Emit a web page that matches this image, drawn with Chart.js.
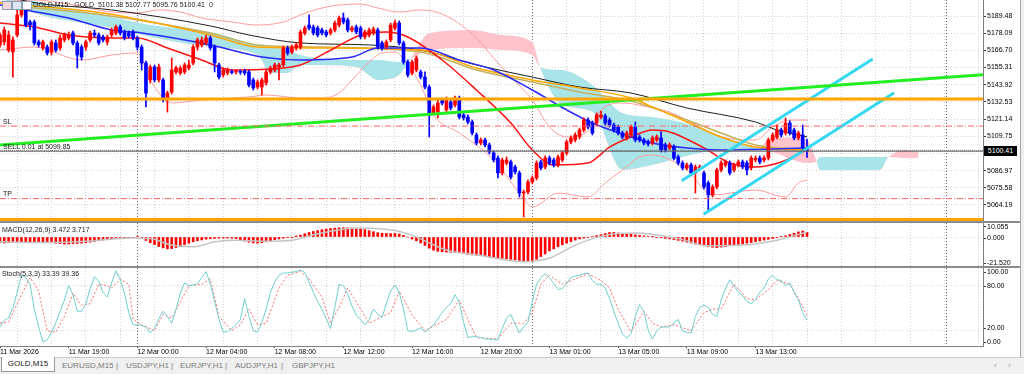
<!DOCTYPE html>
<html>
<head>
<meta charset="utf-8">
<title>GOLD,M15</title>
<script src="https://cdn.jsdelivr.net/npm/chart.js@4.4.1/dist/chart.umd.min.js"></script>
<style>
  body { margin: 0; width: 1024px; height: 374px; overflow: hidden; background: #fff; position: relative; font-family: "Liberation Sans", Arial, sans-serif; }
  canvas { position: absolute; left: 0; }
  .lbl { position: absolute; font-size: 7px; line-height: 8px; color: #202020; white-space: nowrap; z-index: 3; }
  .sep { position: absolute; left: 0; width: 1020px; height: 2px; background: #8c8c8c; z-index: 2; }
  #rightEdge { position: absolute; left: 1020px; top: 0; width: 4px; height: 357px; background: #f0f0f0; border-left: 1px solid #a8a8a8; box-sizing: border-box; }
  #priceBox { position: absolute; left: 984px; top: 146px; width: 33px; height: 10px; background: #000; color: #fff; font-size: 7px; line-height: 10px; text-align: center; z-index: 3; }
  #tabs { position: absolute; left: 0; top: 357px; width: 1024px; height: 17px; background: #f0f0f0; border-top: 1px solid #c8c8c8; box-sizing: border-box; font-size: 8px; font-weight: normal; color: #7a7a7a; }
  #tabs span { position: absolute; top: 3px; white-space: nowrap; font-weight: normal; }
  #tabs .active { top: -1px; left: 1px; width: 54px; height: 15px; background: #fff; border: 1px solid #9a9a9a; border-top: none; box-sizing: border-box; color: #1a1a1a; text-align: center; line-height: 14px; }
  .icon { position: absolute; top: 1px; width: 8px; height: 7px; border: 1px solid #8aa0b8; background: #f4d8de; z-index: 3; }
</style>
</head>
<body>
<canvas id="main" width="1020" height="221" style="top:0"></canvas>
<canvas id="macd" width="1020" height="43" style="top:223px"></canvas>
<canvas id="stoch" width="1020" height="89" style="top:268px"></canvas>

<div class="sep" style="top:221px"></div>
<div class="sep" style="top:266px"></div>
<div id="rightEdge"></div>

<div class="icon" style="left:2px"></div>
<div class="icon" style="left:12px; background:#dde8f4"></div>
<div class="icon" style="left:22px; background:#fff"></div>
<div class="lbl" style="left:33px; top:1px">GOLD,M15:&nbsp; GOLD&nbsp; 5101.38 5107.77 5095.76 5100.41&nbsp; 0</div>
<div class="lbl" style="left:3px; top:118px">SL</div>
<div class="lbl" style="left:3px; top:143px">SELL 0.01 at 5099.85</div>
<div class="lbl" style="left:3px; top:190px">TP</div>
<div class="lbl" style="left:2px; top:226px">MACD(12,26,9) 3.472 3.717</div>
<div class="lbl" style="left:2px; top:270px">Stoch(5,3,3) 33.39 39.36</div>
<div id="priceBox">5100.41</div>

<div id="tabs">
  <span class="active">GOLD,M15</span>
  <span style="left:62px">EURUSD,M15</span>
  <span style="left:116px">|</span>
  <span style="left:126px">USDJPY,H1</span>
  <span style="left:171px">|</span>
  <span style="left:180px">EURJPY,H1</span>
  <span style="left:225px">|</span>
  <span style="left:235px">AUDJPY,H1</span>
  <span style="left:281px">|</span>
  <span style="left:292px">GBPJPY,H1</span>
  <span style="left:994px; color:#a0a0a0">&lsaquo;</span>
  <span style="left:1008px; color:#a0a0a0">&rsaquo;</span>
</div>

<script>
// GOLD M15 candles, bar 0 = 11 Mar 15:00
const openPrices = [5170.3,5172.3,5166.9,5165.6,5176.9,5190.2,5193.5,5185.5,5185.5,5172.3,
5168.3,5168.9,5165.6,5171.6,5168.3,5173.6,5174.9,5178.2,5171.6,5168.9,
5168.9,5173.6,5178.2,5176.9,5175.6,5172.3,5176.9,5178.2,5182.2,5178.9,
5178.2,5178.9,5174.9,5168.9,5158.3,5147.1,5155.7,5147.1,5147.1,5133.8,
5139.1,5152.4,5151.7,5152.4,5155.0,5158.3,5168.9,5170.3,5171.6,5174.9,
5168.9,5157.0,5150.4,5151.7,5152.4,5152.4,5152.4,5153.0,5152.4,5147.1,
5142.4,5142.4,5145.1,5152.4,5153.7,5155.7,5157.0,5168.3,5165.6,5168.3,
5168.9,5178.2,5183.5,5182.2,5181.5,5180.2,5178.9,5178.2,5180.2,5183.5,
5188.2,5186.8,5180.2,5182.2,5181.5,5175.6,5176.9,5178.2,5180.2,5171.6,
5168.9,5173.6,5181.5,5184.8,5171.6,5159.0,5151.7,5153.7,5152.4,5149.0,
5142.4,5125.2,5125.8,5133.8,5127.2,5132.5,5130.5,5135.1,5123.9,5122.5,
5119.2,5110.6,5105.3,5107.3,5104.0,5098.7,5095.3,5085.4,5092.0,5092.7,
5089.4,5085.4,5072.1,5072.8,5079.4,5082.1,5092.7,5089.4,5095.3,5094.0,
5090.7,5094.0,5098.7,5106.0,5107.3,5109.3,5113.9,5120.5,5118.5,5118.5,
5122.5,5123.2,5120.5,5117.2,5115.9,5111.9,5108.6,5110.6,5115.9,5109.3,
5107.3,5106.0,5105.3,5107.3,5108.6,5104.0,5102.0,5102.6,5096.0,5092.0,
5088.7,5090.7,5085.4,5088.7,5085.4,5078.8,5070.8,5076.1,5087.4,5090.7,
5092.0,5087.4,5090.7,5092.7,5092.0,5088.7,5094.0,5095.3,5094.0,5095.3,
5107.3,5109.3,5113.9,5111.9,5118.5,5113.9,5108.6,5110.6,5101.38];

const highPrices = [5178.2,5182.2,5179.5,5175.6,5194.8,5196.8,5198.1,5186.8,5186.8,5173.6,
5173.6,5170.3,5173.6,5173.6,5176.9,5178.2,5178.9,5179.5,5172.9,5170.3,
5173.6,5179.5,5180.2,5178.2,5176.9,5176.9,5181.5,5183.5,5183.5,5180.2,
5179.5,5180.2,5176.2,5170.3,5159.6,5157.0,5157.0,5157.6,5148.4,5139.7,
5161.6,5156.3,5156.3,5158.3,5160.3,5170.3,5174.9,5175.6,5176.9,5176.2,
5170.3,5158.3,5155.0,5155.0,5153.7,5154.0,5153.7,5154.3,5153.7,5148.4,
5147.1,5148.4,5153.7,5156.3,5158.3,5158.3,5169.6,5169.6,5170.3,5171.6,
5180.2,5182.8,5190.2,5183.5,5182.8,5181.5,5180.2,5181.5,5186.2,5189.5,
5191.5,5188.2,5182.8,5183.5,5182.8,5180.2,5181.5,5182.2,5181.5,5172.9,
5173.6,5184.8,5186.8,5186.2,5172.9,5160.3,5160.3,5163.0,5153.7,5152.4,
5143.7,5130.5,5134.4,5135.1,5135.8,5133.8,5136.4,5136.4,5125.2,5123.9,
5120.5,5111.9,5108.6,5108.6,5105.3,5100.0,5096.7,5095.3,5096.0,5094.0,
5090.7,5086.7,5074.1,5080.8,5083.4,5093.4,5094.0,5096.7,5096.7,5095.3,
5097.3,5100.0,5107.3,5110.0,5112.0,5115.2,5121.9,5121.9,5119.9,5125.2,
5126.5,5124.5,5121.9,5118.5,5117.2,5113.2,5113.2,5117.2,5119.2,5110.6,
5108.6,5107.3,5110.0,5110.6,5112.6,5105.3,5105.3,5104.0,5097.3,5093.4,
5092.0,5092.0,5090.7,5090.7,5086.7,5080.1,5077.5,5088.7,5093.4,5094.0,
5093.4,5092.0,5094.0,5094.0,5093.4,5096.7,5096.7,5096.7,5096.7,5108.6,
5112.0,5117.2,5115.2,5121.9,5119.9,5115.2,5113.2,5117.2,5107.77];

const lowPrices = [5168.9,5170.3,5165.6,5149.0,5175.6,5188.8,5182.2,5180.2,5170.3,5168.9,
5166.9,5163.6,5163.6,5165.6,5166.9,5172.3,5173.6,5170.3,5155.0,5160.3,
5166.9,5172.3,5175.6,5170.3,5172.3,5170.3,5175.6,5176.9,5176.9,5173.6,
5174.9,5173.6,5166.9,5153.7,5129.2,5145.1,5145.7,5145.7,5132.5,5125.8,
5137.8,5151.1,5150.4,5151.1,5153.7,5157.0,5166.9,5168.9,5170.3,5166.9,
5152.4,5147.7,5149.0,5150.4,5151.1,5151.1,5150.8,5150.4,5142.4,5140.4,
5141.1,5137.1,5143.7,5151.1,5152.4,5147.1,5155.7,5163.6,5164.3,5166.9,
5167.6,5176.9,5180.2,5176.9,5175.6,5176.9,5175.6,5176.9,5178.9,5182.2,
5184.2,5178.9,5178.9,5177.6,5174.3,5174.3,5175.6,5176.9,5167.6,5166.9,
5167.6,5172.3,5180.2,5170.3,5157.6,5149.0,5150.4,5152.4,5147.7,5141.1,
5109.3,5123.9,5121.9,5130.5,5125.8,5127.2,5129.2,5121.2,5120.5,5117.9,
5110.6,5104.0,5104.0,5102.6,5098.0,5092.7,5082.1,5084.1,5090.7,5081.4,
5084.7,5069.5,5056.2,5071.5,5078.1,5080.8,5087.4,5088.1,5090.7,5089.4,
5089.4,5092.7,5097.3,5104.6,5106.0,5108.0,5112.6,5114.6,5110.6,5117.2,
5121.2,5117.2,5115.9,5112.6,5110.6,5108.0,5107.3,5109.3,5106.0,5106.0,
5104.0,5103.3,5104.0,5106.0,5099.3,5099.3,5100.7,5094.0,5090.7,5087.4,
5087.4,5084.1,5072.1,5087.4,5074.8,5060.9,5069.5,5074.8,5086.1,5089.4,
5084.1,5086.1,5089.4,5088.1,5084.1,5087.4,5092.7,5091.4,5092.7,5094.0,
5106.0,5108.0,5109.3,5110.6,5110.6,5107.3,5107.3,5100.7,5095.76];

const closePrices = [5176.9,5180.2,5176.9,5173.6,5190.2,5193.5,5183.5,5183.5,5171.6,5170.3,
5172.3,5165.0,5172.3,5166.9,5174.9,5176.9,5176.9,5171.6,5163.6,5162.3,
5172.3,5178.2,5176.9,5171.6,5173.6,5175.6,5180.2,5182.2,5178.2,5174.9,
5176.2,5174.9,5168.9,5158.3,5138.4,5155.7,5147.1,5155.7,5133.8,5138.4,
5153.7,5155.0,5155.0,5157.0,5157.0,5168.9,5173.6,5173.6,5174.9,5168.3,
5158.3,5149.0,5153.7,5153.7,5152.0,5152.7,5152.2,5151.7,5143.7,5141.8,
5145.7,5147.1,5152.4,5155.0,5157.0,5157.0,5168.3,5165.0,5168.9,5170.3,
5178.9,5181.5,5181.5,5178.2,5176.9,5178.2,5176.9,5180.2,5184.8,5188.2,
5185.5,5180.2,5181.5,5178.9,5175.6,5178.9,5180.2,5180.9,5168.9,5168.3,
5172.3,5183.5,5184.8,5171.6,5159.0,5150.4,5159.0,5161.6,5149.0,5142.4,
5123.9,5129.2,5131.8,5131.8,5133.8,5128.5,5135.1,5122.5,5121.9,5119.2,
5111.9,5105.3,5107.3,5104.0,5099.3,5094.0,5085.4,5094.0,5094.0,5082.7,
5086.1,5072.1,5072.8,5079.4,5082.1,5092.0,5088.7,5095.3,5092.0,5090.7,
5096.0,5098.7,5106.0,5108.6,5110.6,5113.9,5120.5,5115.9,5111.9,5123.9,
5123.9,5118.5,5117.2,5113.9,5111.9,5109.3,5111.9,5115.9,5107.3,5107.3,
5105.3,5104.6,5108.6,5109.3,5100.7,5100.7,5104.0,5095.3,5092.0,5088.7,
5090.7,5085.4,5089.4,5089.4,5076.1,5070.8,5076.1,5087.4,5092.0,5092.7,
5085.4,5090.7,5092.7,5089.4,5087.4,5095.3,5095.3,5092.7,5095.3,5107.3,
5110.6,5113.9,5110.6,5118.5,5111.9,5108.6,5111.9,5102.0,5100.41];

// indicator lines as [bar, value]
const maBlack = [[0,5204.1],[7,5198.8],[26,5193.5],[49,5182.9],[58,5176.9],[70,5171.6],[86,5170.3],[98,5166.9],[111,5157.0],[124,5149.0],[135,5142.4],[147,5138.4],[160,5128.5],[176,5119.2],[181,5113.9],[188,5109.3]];
const maOrange = [[0,5198.1],[24,5191.5],[33,5186.8],[49,5176.9],[60,5168.9],[75,5168.3],[98,5166.9],[111,5155.0],[124,5147.1],[135,5141.8],[147,5135.1],[152,5129.2],[160,5119.2],[168,5109.3],[176,5102.6],[188,5100.7]];
const maOlive = [[0,5196.8],[8,5194.8],[24,5190.2],[49,5178.2],[60,5170.3],[75,5168.9],[98,5165.6],[111,5153.7],[124,5145.7],[135,5139.1],[147,5133.1],[160,5120.5],[168,5111.9],[176,5104.0],[188,5100.7]];
const maBlue = [[0,5196.8],[6,5193.5],[16,5188.2],[26,5180.2],[33,5178.2],[49,5170.3],[61,5162.3],[70,5160.3],[82,5162.3],[88,5168.3],[98,5168.3],[107,5160.3],[115,5153.7],[124,5140.4],[132,5127.2],[138,5118.5],[147,5109.3],[152,5105.3],[160,5102.0],[168,5100.7],[180,5101.3],[188,5102.0]];
const maRed = [[0,5184.8],[8,5182.2],[16,5176.9],[26,5174.9],[32,5174.9],[39,5168.3],[47,5160.3],[54,5153.7],[66,5155.0],[70,5157.0],[78,5168.3],[84,5176.9],[90,5178.9],[95,5175.6],[103,5160.3],[111,5140.4],[119,5118.5],[124,5100.7],[129,5090.7],[137,5092.0],[142,5102.6],[147,5109.3],[152,5113.9],[156,5112.6],[164,5102.0],[170,5092.0],[176,5089.4],[182,5092.7],[188,5100.7]];
const bbUpper = [[0,5198.8],[8,5200.1],[16,5197.4],[26,5192.1],[32,5191.5],[37,5193.5],[42,5192.1],[47,5188.2],[54,5185.5],[60,5183.5],[66,5185.5],[70,5190.2],[75,5194.8],[79,5196.8],[84,5197.4],[88,5194.8],[93,5192.1],[98,5193.5],[104,5189.5],[111,5174.9],[115,5161.6],[119,5149.0],[124,5133.8],[128,5115.9],[132,5109.3],[138,5115.9],[140,5127.2],[145,5131.8],[152,5128.5],[156,5125.8],[160,5120.5],[168,5109.3],[176,5107.3],[180,5115.9],[184,5120.5],[188,5120.5]];
const bbLower = [[0,5166.9],[8,5168.9],[19,5160.3],[26,5163.6],[32,5165.0],[35,5147.1],[40,5131.8],[47,5133.8],[58,5135.8],[62,5137.1],[70,5135.1],[75,5135.1],[79,5138.4],[82,5147.1],[86,5159.0],[89,5165.0],[92,5165.6],[95,5157.0],[98,5143.7],[101,5123.9],[107,5111.9],[115,5094.0],[121,5072.1],[124,5062.9],[130,5072.1],[137,5069.5],[141,5078.8],[145,5087.4],[149,5096.0],[152,5097.3],[160,5087.4],[166,5070.8],[176,5074.1],[183,5069.5],[186,5078.8],[188,5080.8]];
const spanA = [[0,5206.7],[7,5200.1],[26,5188.8],[35,5183.5],[49,5178.9],[60,5170.3],[63,5168.9],[67,5166.9],[70,5163.6],[83,5160.3],[88,5160.3],[93,5159.0],[96,5161.6],[100,5166.9],[110,5168.3],[117,5166.9],[124,5163.6],[126,5155.0],[131,5153.7],[138,5143.7],[145,5125.2],[152,5122.5],[161,5117.2],[168,5109.3],[176,5102.0],[180,5099.3],[188,5092.0],[190,5092.7],[191,5096.0],[205,5096.0],[207,5096.0],[211,5095.3],[214,5095.3]];
const spanB = [[0,5201.4],[7,5192.1],[26,5181.5],[35,5175.6],[49,5168.9],[60,5163.6],[63,5151.7],[67,5151.7],[70,5157.0],[83,5155.7],[88,5147.1],[93,5150.4],[96,5163.0],[100,5178.2],[110,5180.2],[117,5176.9],[124,5172.3],[126,5153.7],[131,5130.5],[138,5125.8],[145,5087.4],[152,5090.7],[161,5097.3],[168,5100.7],[176,5100.7],[180,5109.3],[188,5107.3],[190,5095.3],[191,5087.4],[205,5087.4],[207,5096.0],[211,5100.7],[214,5099.3]];

// chart objects
const levelOrange = 5134.5, levelOrangeLow = 5054.5;
const levelSL = 5116.5, levelTP = 5068.4, levelSell = 5099.85, levelBid = 5100.41;
const trendGreen = [[0,5104.0],[229,5150.6]];
const channelUpper = [[158.8,5080.3],[203.3,5161.0]];
const channelLower = [[163.9,5058.0],[208.3,5138.6]];

const macdHist = [-4.0,-4.5,-4.2,-3.8,-3.6,-3.5,-3.6,-3.7,-3.5,-3.4,-3.6,-3.8,-4.2,-4.6,-5.0,-5.3,-5.2,-5.0,-4.8,-4.6,-4.3,
-3.8,-3.3,-2.8,-2.3,-1.8,-1.3,-0.9,-0.6,-0.5,-0.4,-0.3,0.3,-1.2,-2.6,-4.2,-5.6,-7.0,-8.1,-8.8,-8.6,-7.8,-6.7,-5.6,
-4.6,-3.6,-2.8,-2.2,-1.6,-1.2,-1.0,-0.9,-0.8,-0.8,-0.9,-1.2,-2.2,-3.0,-3.8,-4.4,-4.6,-4.2,-3.6,-2.8,-2.0,-1.4,-0.9,-0.5,-0.2,
0.8,1.4,2.4,3.3,4.1,4.8,5.4,5.9,6.3,6.6,6.8,6.9,6.8,6.6,6.3,6.0,5.5,4.7,3.9,3.2,2.8,2.6,2.5,2.6,2.2,1.2,0.0,-1.5,-2.8,-4.4,
-6.2,-8.3,-9.8,-10.6,-11.0,-11.2,-11.3,-11.5,-11.8,-12.3,-12.8,-13.3,-13.6,-13.9,-14.3,-14.7,-15.0,-15.4,-15.8,-16.2,-16.6,
-17.0,-17.4,-17.7,-17.9,-17.5,-16.5,-14.5,-12.6,-10.3,-8.8,-7.2,-5.8,-4.6,-3.4,-2.3,-1.4,-0.8,-0.3,0.4,1.0,1.7,2.6,3.3,3.4,3.0,
2.7,2.4,2.0,1.6,1.2,0.8,0.4,0.1,-0.3,-0.6,-1.0,-1.4,-1.9,-2.5,-3.1,-3.8,-4.5,-5.2,-5.8,-6.4,-7.0,-7.6,-7.9,-7.5,
-7.0,-6.5,-6.1,-5.6,-5.1,-4.6,-4.1,-3.5,-2.9,-2.3,-1.7,-1.1,-0.5,0.2,0.9,1.8,2.8,3.8,4.4,3.472];
const macdSignal = [[0,-3.6],[12,-4.1],[20,-3.1],[31,-0.7],[35,-1.2],[40,-6.0],[45,-7.2],[50,-3.6],[54,-2.4],[62,-3.1],[68,-2.4],[74,2.4],[82,6.5],[85,6.7],[92,4.8],[96,1.2],[104,-9.6],[111,-13.2],[122,-18.4],[128,-15.6],[134,-6.0],[141,1.2],[148,2.9],[158,-1.2],[165,-6.5],[173,-6.0],[181,-2.4],[188,3.717]];

const stochMain = [24,33,36,50,70,93,90,81,48,24,
4,7,17,30,45,60,79,67,45,45,
55,75,91,85,70,64,83,99,88,69,
43,27,27,26,24,16,22,35,45,38,
29,48,69,83,79,80,82,90,98,81,
58,35,17,18,22,27,34,62,38,19,
17,30,48,70,84,93,96,96,97,98,
100,97,84,70,58,48,35,22,50,81,
79,68,52,40,34,27,34,48,41,37,
55,72,80,70,48,19,18,20,23,17,
22,27,35,43,50,55,67,57,30,10,
11,11,10,8,8,7,7,22,36,41,
28,16,24,31,57,81,90,95,90,82,
74,75,82,90,92,93,95,96,86,81,
81,76,62,45,29,15,9,15,38,54,
45,20,8,19,24,24,24,30,34,19,
17,16,38,50,53,50,41,38,60,75,
87,79,70,66,58,55,60,70,76,88,
93,87,86,79,83,70,60,43,33.39];
const stochSignal = [[0,29],[2,31],[5,67],[7,90],[9,72],[11,19],[13,17],[15,38],[17,69],[19,53],[21,55],[23,81],[25,79],[26,76],[28,88],[30,81],[31,34],[33,27],[36,19],[38,41],[40,36],[42,57],[44,79],[47,81],[49,88],[51,38],[54,19],[56,27],[58,48],[60,27],[62,29],[65,76],[67,93],[70,98],[72,88],[75,64],[77,29],[79,50],[81,76],[84,48],[86,29],[89,38],[91,43],[93,72],[96,40],[99,19],[104,34],[107,60],[109,34],[111,10],[116,8],[119,29],[122,29],[124,43],[126,81],[128,93],[131,81],[134,88],[137,95],[140,86],[142,76],[144,48],[147,17],[150,45],[152,29],[154,24],[157,27],[161,19],[164,43],[166,48],[168,48],[171,81],[174,62],[176,60],[179,74],[181,86],[184,81],[186,62],[188,39.36]];

// axes
const priceTicks = [5189.48,5178.09,5166.70,5155.31,5143.92,5132.53,5121.14,5109.75,5098.36,5086.97,5075.58,5064.19];
const macdTicks = [10.055,0,-21.52];
const stochTicks = [100,80,20,0];
const timeLabels = ['11 Mar 2026','11 Mar 19:00','12 Mar 00:00','12 Mar 04:00','12 Mar 08:00','12 Mar 12:00','12 Mar 16:00','12 Mar 20:00','13 Mar 01:00','13 Mar 05:00','13 Mar 09:00','13 Mar 13:00'];
const timeLabelBars = [0,16,32,48,64,80,96,112,128,144,160,176];
const separators = [32,124,220.5];

const X_MAX = 229;
const font7 = { family: 'Liberation Sans', size: 7 };
const cloudUp = '#a9e4e9', cloudDown = '#ffc3cb';
const bull = '#ff0000', bear = '#0000ff';

Chart.defaults.font.family = 'Liberation Sans';

function pts(pairs) {
    return pairs.map(p => ({ x: p[0], y: p[1] }));
}

function hline(v) {
    return [{ x: 0, y: v }, { x: X_MAX, y: v }];
}

function lineSet(data, color, width, order, extra) {
    return Object.assign({
        type: 'line', data: data, borderColor: color, borderWidth: width,
        pointRadius: 0, fill: false, order: order, cubicInterpolationMode: 'monotone'
    }, extra || {});
}

function xAxis(showLabels) {
    return {
        type: 'linear', min: 0, max: X_MAX, offset: false,
        afterBuildTicks: scale => {
            const vals = new Set(separators);
            for (let v = 0; v <= 228; v += 4) vals.add(v);
            scale.ticks = [...vals].sort((a, b) => a - b).map(v => ({ value: v }));
        },
        grid: {
            offset: false,
            color: c => separators.includes(c.tick.value) ? '#6a6a6a' : (c.tick.value % 8 === 4 ? '#d2d2d2' : 'transparent'),
            drawTicks: showLabels, tickLength: 2,
            tickColor: c => timeLabelBars.includes(c.tick.value) ? '#404040' : 'transparent'
        },
        border: { display: showLabels, color: '#808080', dash: [1, 2] },
        ticks: {
            display: showLabels, autoSkip: false, maxRotation: 0, align: 'start', padding: 0,
            font: font7, color: '#000',
            callback: v => { const k = timeLabelBars.indexOf(v); return k >= 0 ? timeLabels[k] : ''; }
        },
        afterFit: s => { s.height = showLabels ? 11 : 0; s.paddingLeft = 0; s.paddingRight = 0; }
    };
}

// hidden value axis that carries the data and the dotted grid
function dataAxis(min, max, gridVals) {
    return {
        type: 'linear', position: 'right', min: min, max: max, beginAtZero: false,
        afterBuildTicks: s => { s.ticks = gridVals.map(v => ({ value: v })); },
        grid: { color: '#d2d2d2', drawTicks: false },
        border: { display: false, dash: [1, 2] },
        ticks: { display: false },
        afterFit: s => { s.width = 0; s.paddingTop = 0; s.paddingBottom = 0; }
    };
}

// label axis, MT4 keeps its labels inside the panel
function labelAxis(min, max, vals, digits) {
    return {
        type: 'linear', position: 'right', min: min, max: max, beginAtZero: false,
        afterBuildTicks: s => { s.ticks = vals.map(v => ({ value: v })); },
        grid: { drawOnChartArea: false, tickLength: 3, tickColor: '#404040' },
        border: { display: true, color: '#808080' },
        ticks: { autoSkip: false, font: font7, color: '#000', padding: 1, callback: v => v.toFixed(digits) },
        afterFit: s => { s.width = 37; s.paddingTop = 0; s.paddingBottom = 0; }
    };
}

const common = {
    responsive: false, animation: false, events: [], devicePixelRatio: 1,
    layout: { padding: 0 },
    plugins: { legend: { display: false }, tooltip: { enabled: false } }
};

const candleColors = openPrices.map((o, i) => closePrices[i] >= o ? bull : bear);

new Chart(document.getElementById('main'), {
    type: 'bar',
    data: {
        datasets: [
            lineSet(pts(spanA), 'transparent', 0, 12, { fill: { target: '+1', above: cloudUp, below: cloudDown } }),
            lineSet(pts(spanB), 'transparent', 0, 12),
            lineSet(pts(bbUpper), '#ff9c9c', 1, 9),
            lineSet(pts(bbLower), '#ff9c9c', 1, 9),
            lineSet(pts(maBlack), '#1e1e1e', 1, 8),
            lineSet(pts(maOlive), '#c4b25c', 1.5, 7),
            lineSet(pts(maOrange), '#ffa500', 1.5, 6),
            lineSet(pts(maBlue), '#2a2aff', 1.5, 5),
            lineSet(pts(maRed), '#ff1414', 1.5, 5),
            {
                type: 'bar', order: 4, grouped: false, barThickness: 1,
                data: lowPrices.map((l, i) => ({ x: i, y: [l, highPrices[i]] })),
                backgroundColor: candleColors
            },
            {
                type: 'bar', order: 3, grouped: false, barThickness: 3, minBarLength: 1,
                data: openPrices.map((o, i) => ({ x: i, y: [Math.min(o, closePrices[i]), Math.max(o, closePrices[i])] })),
                backgroundColor: candleColors
            },
            lineSet(hline(levelOrange), '#ffa500', 3, 0, { cubicInterpolationMode: 'default' }),
            lineSet(hline(levelOrangeLow), '#ffa500', 3, 0, { cubicInterpolationMode: 'default' }),
            lineSet(hline(levelSL), '#ff6464', 1, 0, { borderDash: [6, 2, 1, 2] }),
            lineSet(hline(levelTP), '#ff6464', 1, 0, { borderDash: [6, 2, 1, 2] }),
            lineSet(hline(levelSell), '#555555', 1, 0),
            lineSet(hline(levelBid), '#8a8a8a', 1, 0, { borderDash: [1, 1] }),
            lineSet(pts(trendGreen), '#22ee22', 3, 0),
            lineSet(pts(channelUpper), '#35d8f2', 3, 0),
            lineSet(pts(channelLower), '#35d8f2', 3, 0)
        ]
    },
    options: Object.assign({}, common, {
        scales: {
            x: xAxis(false),
            y: {
                type: 'linear', position: 'right', min: 5053.55, max: 5200.1, beginAtZero: false,
                afterBuildTicks: s => { s.ticks = priceTicks.map(v => ({ value: v })); },
                grid: { color: '#d2d2d2', tickLength: 3, tickColor: '#404040' },
                border: { display: true, color: '#808080', dash: [1, 2] },
                ticks: { autoSkip: false, font: font7, color: '#000', padding: 1, callback: v => v.toFixed(2) },
                afterFit: s => { s.width = 37; s.paddingTop = 0; s.paddingBottom = 0; }
            }
        }
    })
});

new Chart(document.getElementById('macd'), {
    type: 'bar',
    data: {
        datasets: [
            lineSet(pts(macdSignal), '#c4c4c4', 1.5, 0, { yAxisID: 'y' }),
            {
                type: 'bar', order: 1, yAxisID: 'y', grouped: false, barThickness: 2,
                data: macdHist.map((v, i) => ({ x: i, y: v })),
                backgroundColor: '#ff0000'
            }
        ]
    },
    options: Object.assign({}, common, {
        scales: {
            x: xAxis(false),
            y: dataAxis(-21.52, 10.39, [0]),
            yl: labelAxis(-24.15, 13.56, macdTicks, 3)
        }
    })
});

new Chart(document.getElementById('stoch'), {
    type: 'line',
    data: {
        datasets: [
            lineSet(pts(stochSignal), '#ff6a6a', 1, 1, { yAxisID: 'y', borderDash: [2, 2], cubicInterpolationMode: 'default' }),
            lineSet(stochMain.map((v, i) => ({ x: i, y: v })), '#6fcfd0', 1, 0, { yAxisID: 'y', cubicInterpolationMode: 'default' })
        ]
    },
    options: Object.assign({}, common, {
        scales: {
            x: xAxis(true),
            y: dataAxis(-1.33, 102.67, [20, 80]),
            yl: labelAxis(-5.26, 105.69, stochTicks, 2)
        }
    })
});
</script>
</body>
</html>
